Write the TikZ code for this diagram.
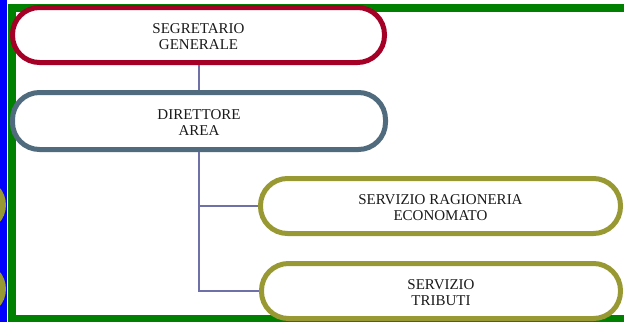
\documentclass[tikz,border=0pt]{standalone}
\usepackage{fontspec}
\setmainfont{Liberation Serif}
\definecolor{cred}{HTML}{A50026}
\definecolor{cslate}{HTML}{4F6B7D}
\definecolor{colive}{HTML}{999933}
\definecolor{cgreen}{HTML}{008000}
\definecolor{cblue}{HTML}{0000FF}
\definecolor{cline}{HTML}{7070A8}
\definecolor{ctext}{HTML}{1A1A1A}
\newcommand{\boxlbl}[1]{\raisebox{-3pt}[\height][\depth]{\begin{tabular}{@{}c@{}}#1\end{tabular}}}
\tikzset{
  orgbox/.style={draw, line width=5pt, fill=white, rectangle, rounded corners=27pt,
    align=center, text=ctext, font=\fontsize{15}{16}\selectfont, inner sep=0pt},
  conn/.style={draw=cline, line width=1.3pt}
}
\begin{document}
\begin{tikzpicture}[x=1pt,y=-1pt]
\useasboundingbox (0,0) rectangle (624,322);
\clip (0,0) rectangle (624,322);
% background bands
\fill[cblue] (0,0) rectangle (7,322);
\fill[colive] (-21,205) circle (27);
\fill[colive] (-21,289) circle (27);
\fill[cgreen] (8,4) rectangle (16,322);
\fill[cgreen] (8,4) rectangle (624,12);
\fill[cgreen] (8,315) rectangle (624,322);
% connector junctions
\coordinate (j1) at (199,206);
\coordinate (j2) at (199,291);
% boxes
\node[orgbox, draw=cred, minimum width=372pt, minimum height=55pt] (seg) at (198.5,35) {\boxlbl{SEGRETARIO\\GENERALE}};
\node[orgbox, draw=cslate, minimum width=373pt, minimum height=57pt] (dir) at (199,121) {\boxlbl{DIRETTORE\\AREA}};
\node[orgbox, draw=colive, minimum width=360pt, minimum height=55pt] (rag) at (440.5,206) {\boxlbl{SERVIZIO RAGIONERIA\\ECONOMATO}};
\node[orgbox, draw=colive, minimum width=359pt, minimum height=55pt] (tri) at (441,291) {\boxlbl{SERVIZIO\\TRIBUTI}};
% connectors
\draw[conn] (seg.south -| j1) -- (dir.north -| j1);
\draw[conn] (dir.south -| j1) -- (j2) -- (tri.west);
\draw[conn] (j1) -- (rag.west);
\end{tikzpicture}
\end{document}
